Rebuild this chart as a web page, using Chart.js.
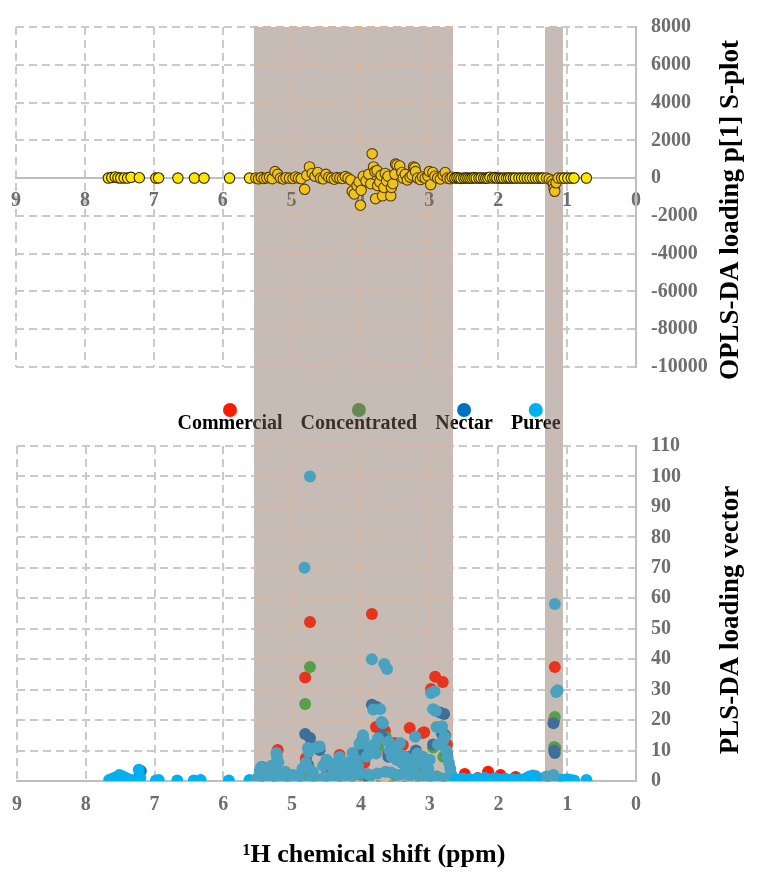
<!DOCTYPE html>
<html><head><meta charset="utf-8">
<script src="https://cdn.jsdelivr.net/npm/chart.js@4.4.1/dist/chart.umd.min.js"></script>
<style>
html,body{margin:0;padding:0;background:#fff;}
#wrap{position:relative;width:763px;height:872px;overflow:hidden;}
canvas{position:absolute;left:0;}
#c1{top:0}
#c2{top:394px}
</style></head><body>
<div id="wrap"><canvas id="c1" width="763" height="394"></canvas><canvas id="c2" width="763" height="478"></canvas></div>
<script>
// ---------- DATA ----------
// Top panel: OPLS-DA loading p[1] S-plot vs 1H chemical shift (ppm)
const topShift = [
7.66,7.61,7.56,7.52,7.48,7.43,7.38,7.33,7.21,6.97,6.93,6.65,6.41,6.27,5.90,5.61,
5.52,5.48,5.44,5.40,5.36,5.32,5.28,5.24,5.20,5.16,
5.12,5.08,5.03,4.98,4.94,4.90,4.86,4.81,4.78,4.74,
4.70,4.66,4.62,4.58,4.54,4.50,4.46,4.42,4.38,4.34,
4.30,4.26,4.22,4.18,4.14,4.12,4.09,4.05,4.02,4.00,
3.99,3.96,3.92,3.88,3.85,3.83,3.81,3.79,3.78,3.76,
3.75,3.72,3.70,3.68,3.66,3.64,3.62,3.60,3.56,3.55,
3.53,3.50,3.49,3.47,3.43,3.40,3.38,3.35,3.32,3.28,
3.25,3.23,3.21,3.20,3.17,3.13,3.10,3.06,3.02,3.00,
2.98,2.95,2.92,2.88,2.84,2.80,2.77,2.74,2.70,2.67,
2.63,2.60,2.57,2.54,2.50,2.47,2.44,2.41,2.38,2.35,
2.32,2.28,2.25,2.21,2.18,2.15,2.12,2.08,2.05,2.02,
1.98,1.95,1.92,1.88,1.85,1.82,1.78,1.75,1.70,1.66,
1.62,1.58,1.54,1.50,1.46,1.42,1.38,1.35,1.30,1.26,
1.22,1.20,1.19,1.18,1.16,1.13,1.08,1.04,0.99,0.94,
0.90,0.72];
const topLoading = [
0,30,60,20,0,10,0,40,20,0,10,0,0,0,0,0,
0,-40,30,-20,10,40,-30,347,200,0,
-50,20,0,-20,60,0,-30,-594,150,594,
250,100,297,0,-40,198,50,0,-60,30,
0,-20,80,0,-100,-693,-842,-400,-200,-1436,
-644,100,-150,200,-300,1287,594,350,-1089,400,
-396,-198,150,-940,-500,250,-150,100,-940,-495,
-300,200,742,693,644,300,0,198,-100,50,
150,594,545,347,0,-80,60,0,100,347,
-347,297,100,0,-50,150,297,0,-30,50,
0,20,0,-20,0,10,0,-10,0,20,
0,0,10,0,-10,0,50,0,30,0,
0,-10,0,0,10,0,0,0,0,0,
0,0,0,0,0,0,0,0,0,-50,
-150,-300,-545,-700,-250,0,0,0,0,0,
0,0];

// Bottom panel: PLS-DA loading vector, four classes
const seriesNames = ['Commercial','Concentrated','Nectar','Puree'];

const commercialShift = [5.40,5.21,5.00,4.81,4.80,4.76,4.74,4.50,4.31,4.30,4.00,3.95,3.84,3.78,3.65,3.60,3.51,3.39,3.29,3.10,3.08,2.98,2.92,2.81,2.78,2.75,2.49,2.30,2.15,1.97,1.75,1.46,1.19,1.18];
const commercialLoading = [2,10.2,1.5,34,7.5,2.0,52.2,2,8.5,4.6,11.2,6,54.8,17.7,16.4,9,12.5,11.8,17.4,15.8,16.0,30.2,34.2,32.5,15,12,2.3,1.0,3.0,2.0,1.3,1.6,20,37.4];

const concentratedShift = [5.21,5.00,4.81,4.76,4.74,4.31,4.00,3.75,3.64,3.50,3.30,3.10,2.95,2.90,2.80,2.50,2.00,1.19,1.18,1.17];
const concentratedLoading = [3.0,1.0,25.3,2.6,37.4,3.0,2.0,11,14.5,2.0,3.3,5,11,1.5,8,0.5,0.5,11.2,21,10.8];

const nectarShift = [7.50,7.22,7.20,5.44,5.40,5.30,5.20,4.81,4.77,4.74,4.65,4.60,4.50,4.30,4.20,4.00,3.98,3.90,3.84,3.77,3.70,3.60,3.50,3.40,3.30,3.20,3.10,3.00,2.95,2.85,2.82,2.79,2.78,2.75,2.50,2.00,1.50,1.20,1.19,1.18];
const nectarLoading = [0.5,1.7,3.3,4.6,3.0,1.0,0.5,15.4,5.3,14.1,11.2,10.2,1.0,4.0,2.0,9.0,13.3,1.5,25,24.3,15.0,8,10,6,8,10,7,1.0,12,22.5,15.4,22,15.0,9,0.3,0.3,0.5,19,10,9.2];

const pureeShift = [
7.66,7.61,7.56,7.51,7.46,7.41,7.35,7.23,7.21,6.98,6.94,6.67,6.43,6.33,5.92,5.62,
5.52,5.47,5.45,5.42,5.38,5.34,5.30,5.26,5.23,5.22,5.20,5.15,5.10,5.05,5.00,4.95,4.90,4.85,4.82,4.80,
4.78,4.77,4.76,4.74,4.70,4.65,4.60,4.55,4.50,4.45,4.40,4.35,4.31,4.28,4.24,4.20,4.15,4.12,4.08,4.04,
4.02,3.97,3.96,3.92,3.88,3.84,3.82,3.80,3.78,3.75,3.72,3.70,3.68,3.66,3.62,3.60,3.58,3.55,3.52,3.48,
3.45,3.43,3.40,3.36,3.33,3.30,3.25,3.21,3.18,3.15,3.10,3.05,3.02,3.00,2.98,2.95,2.93,2.91,2.90,2.88,
2.84,2.82,2.80,2.78,2.76,2.74,2.72,2.70,2.68,
5.50,5.40,5.28,5.18,5.08,4.98,4.88,4.72,4.62,4.52,4.42,4.32,4.22,4.10,4.00,3.90,3.86,3.76,3.64,3.56,
3.46,3.38,3.28,3.20,3.12,3.04,2.96,2.86,2.79,
2.62,2.58,2.52,2.47,2.42,2.37,2.30,2.25,2.20,2.15,2.10,2.05,2.00,1.95,1.90,1.85,1.80,1.75,1.70,1.65,
1.60,1.55,1.50,1.45,1.40,1.35,1.30,1.25,1.20,1.18,1.16,1.14,1.10,1.05,1.00,0.95,0.90,0.72];
const pureeLoading = [
0.3,0.8,1.2,2.0,1.5,0.9,0.4,3.7,1.0,0.2,0.3,0.2,0.2,0.3,0.2,0.3,
0.5,3.5,4.5,3.0,2.0,1.5,5.0,3.0,9.2,7.9,6.2,2.5,3.0,1.5,2.0,1.8,1.2,4.0,70,6.0,
4.5,10.8,9.5,100,3.0,11.0,11.3,5.0,7.0,6.0,4.0,3.5,7.9,5.5,4.0,4.0,6.5,9.2,7.0,5.0,
12.2,15.0,13.5,8.0,10.5,40,23.5,12,9,14,23.6,19.4,19.0,38.4,36.8,13,10,8,11,7,
9,12.5,6,8,5,7,5,14.5,9,6,8,5,4,7,28.9,23.6,29.5,23,17.7,12,
17.4,18,13.5,14.5,10,8,6,4,2,
1.0,0.5,0.8,0.6,0.4,0.7,0.5,0.8,0.6,1.2,0.9,1.5,1.8,2.0,2.5,2.2,1.8,2.5,3.0,2.8,
2.0,2.4,1.8,2.2,1.6,1.2,1.5,1.0,0.8,
0.5,0.3,0.8,0.4,0.6,0.3,0.8,0.5,1.0,0.6,0.4,0.9,0.5,0.3,0.7,0.4,0.6,0.3,0.5,0.4,
0.8,1.5,1.8,1.2,0.6,0.9,1.5,1.0,2.0,58.1,29.2,29.8,0.5,0.3,0.6,0.3,0.2,0.3];

// Highlighted (shaded) chemical-shift regions
const shadeFrom = [5.55, 1.32];
const shadeTo   = [2.66, 1.06];

// Axis ranges
const ppmMin = 0, ppmMax = 9, ppmStep = 1;
const oplsMin = -10000, oplsMax = 8000, oplsStep = 2000;
const plsMin = 0, plsMax = 110, plsStep = 10;

// ---------- STYLE ----------
const FONT = '"Liberation Serif","Times New Roman",serif';
const TICK = '#6e6e6e';
const GRID = '#cacaca';
const GRID_IN_SHADE = '#dcb69c';
const AXIS = '#bfbfbf';
const SHADE = 'rgba(130,105,90,0.45)';
const seriesColors = ['#ff1a00', '#4ca64a', '#0070c0', '#00b0f0'];
const seriesColorsShaded = ['#e8341e', '#56a048', '#3f6f98', '#48a2c0'];
const topFill = '#ffe600', topFillShaded = '#ecc41c';
const topBorder = '#2e2200', topBorderShaded = '#5a3c0a';

Chart.defaults.font.family = FONT;

const pts = (xs, ys) => xs.map((x, i) => ({x: x, y: ys[i]}));
const inShade = x => shadeFrom.some((a, i) => x <= a && x >= shadeTo[i]);
const byShade = (normal, shaded) => c => (c.raw && inShade(c.raw.x)) ? shaded : normal;

function tickFont(){ return {family: FONT, size: 20, weight: 'bold'}; }

function drawShade(chart, y0, y1){
  const xs = chart.scales.x, ys = chart.scales.y, ctx = chart.ctx, area = chart.chartArea;
  ctx.save();
  shadeFrom.forEach((a, i) => {
    const p1 = xs.getPixelForValue(a), p2 = xs.getPixelForValue(shadeTo[i]);
    const left = Math.round(Math.min(p1, p2)), w = Math.round(Math.abs(p2 - p1));
    ctx.fillStyle = SHADE;
    ctx.fillRect(left, y0, w, y1 - y0);
    // grid lines seen through the shaded band
    ctx.save();
    ctx.beginPath();
    ctx.rect(left, area.top - 1, w, area.bottom - area.top + 2);
    ctx.clip();
    ctx.strokeStyle = GRID_IN_SHADE;
    ctx.lineWidth = 2;
    ctx.setLineDash([8, 5]);
    ctx.beginPath();
    ys.ticks.forEach(t => {
      const py = Math.round(ys.getPixelForValue(t.value));
      ctx.moveTo(area.left, py); ctx.lineTo(area.right, py);
    });
    xs.ticks.forEach(t => {
      const px = Math.round(xs.getPixelForValue(t.value));
      ctx.moveTo(px, area.top); ctx.lineTo(px, area.bottom);
    });
    ctx.stroke();
    ctx.restore();
  });
  ctx.restore();
}
function vTitle(ctx, text, x, y){
  ctx.save();
  ctx.translate(x, y);
  ctx.rotate(-Math.PI / 2);
  ctx.font = 'bold 27px ' + FONT;
  ctx.fillStyle = '#000';
  ctx.textAlign = 'center';
  ctx.textBaseline = 'middle';
  ctx.fillText(text, 0, 0);
  ctx.restore();
}

// ---------- TOP CHART ----------
new Chart(document.getElementById('c1'), {
  type: 'scatter',
  data: {datasets: [{
    label: 'OPLS-DA loading p[1]',
    data: pts(topShift, topLoading),
    backgroundColor: byShade(topFill, topFillShaded),
    borderColor: byShade(topBorder, topBorderShaded),
    borderWidth: 1.1,
    pointRadius: 5.2,
    pointHoverRadius: 5.2
  }]},
  options: {
    responsive: false, animation: false, devicePixelRatio: 1,
    layout: {padding: {top: 17, left: 14, right: 0, bottom: 13}},
    plugins: {legend: {display: false}, tooltip: {enabled: false}},
    scales: {
      x: {
        type: 'linear', min: ppmMin, max: ppmMax, reverse: true,
        position: {y: 0},
        afterFit: s => { s.height = 0; },
        ticks: {stepSize: ppmStep, color: TICK, font: tickFont(), padding: 11, maxRotation: 0},
        grid: {color: GRID, lineWidth: 2, drawTicks: false},
        border: {color: AXIS, width: 2, dash: [8, 5]}
      },
      y: {
        position: 'right', min: oplsMin, max: oplsMax,
        afterFit: s => { s.width = 127; },
        ticks: {stepSize: oplsStep, color: TICK, font: tickFont(), padding: 15, callback: v => String(v)},
        grid: {color: GRID, lineWidth: 2, drawTicks: false},
        border: {color: AXIS, width: 2, dash: [8, 5]}
      }
    }
  },
  plugins: [{
    id: 'topDeco',
    beforeDatasetsDraw(chart){
      vTitle(chart.ctx, 'OPLS-DA loading p[1] S-plot', 731, 210);
      drawShade(chart, chart.chartArea.top, chart.height);
    }
  }]
});

// ---------- BOTTOM CHART ----------
const bottomSets = [
  [commercialShift, commercialLoading],
  [concentratedShift, concentratedLoading],
  [nectarShift, nectarLoading],
  [pureeShift, pureeLoading]
].map((s, i) => ({
  label: seriesNames[i],
  data: pts(s[0], s[1]),
  legendColor: seriesColors[i],
  backgroundColor: byShade(seriesColors[i], seriesColorsShaded[i]),
  borderWidth: 0,
  pointRadius: 6,
  pointHoverRadius: 6,
  order: 3 - i
}));

new Chart(document.getElementById('c2'), {
  type: 'scatter',
  data: {datasets: bottomSets},
  options: {
    responsive: false, animation: false, devicePixelRatio: 1,
    layout: {padding: {top: 52, left: 14, right: 0, bottom: 0}},
    plugins: {legend: {display: false}, tooltip: {enabled: false}},
    scales: {
      x: {
        type: 'linear', min: ppmMin, max: ppmMax, reverse: true, position: 'bottom',
        afterFit: s => { s.height = 91; },
        ticks: {stepSize: ppmStep, color: TICK, font: tickFont(), padding: 12, maxRotation: 0},
        grid: {color: GRID, lineWidth: 2, drawTicks: false},
        border: {color: AXIS, width: 2, dash: [8, 5]}
      },
      y: {
        position: 'right', min: plsMin, max: plsMax,
        afterFit: s => { s.width = 127; },
        ticks: {stepSize: plsStep, color: TICK, font: tickFont(), padding: 15},
        grid: {color: GRID, lineWidth: 2, drawTicks: false},
        border: {color: AXIS, width: 2, dash: [8, 5]}
      }
    }
  },
  plugins: [{
    id: 'bottomDeco',
    beforeDatasetsDraw(chart){
      const ctx = chart.ctx;
      // legend: marker above each label
      ctx.save();
      ctx.font = 'bold 20px ' + FONT;
      ctx.textBaseline = 'middle';
      ctx.textAlign = 'left';
      const gap = 18;
      const ws = chart.data.datasets.map(d => ctx.measureText(d.label).width);
      const total = ws.reduce((a, b) => a + b, 0) + gap * (ws.length - 1);
      let x = 369 - total / 2;
      chart.data.datasets.forEach((d, i) => {
        ctx.fillStyle = '#000';
        ctx.fillText(d.label, x, 30);
        ctx.beginPath();
        ctx.arc(x + ws[i] / 2, 16, 7, 0, Math.PI * 2);
        ctx.fillStyle = d.legendColor;
        ctx.fill();
        x += ws[i] + gap;
      });
      ctx.restore();
      vTitle(ctx, 'PLS-DA loading vector', 731, 226);
      ctx.save();
      ctx.font = 'bold 26px ' + FONT;
      ctx.fillStyle = '#000';
      ctx.textAlign = 'center';
      ctx.textBaseline = 'middle';
      ctx.fillText('\u00B9H chemical shift (ppm)', 374, 461);
      ctx.restore();
      drawShade(chart, 0, chart.chartArea.bottom + 1);
    }
  }]
});
</script>
</body></html>
